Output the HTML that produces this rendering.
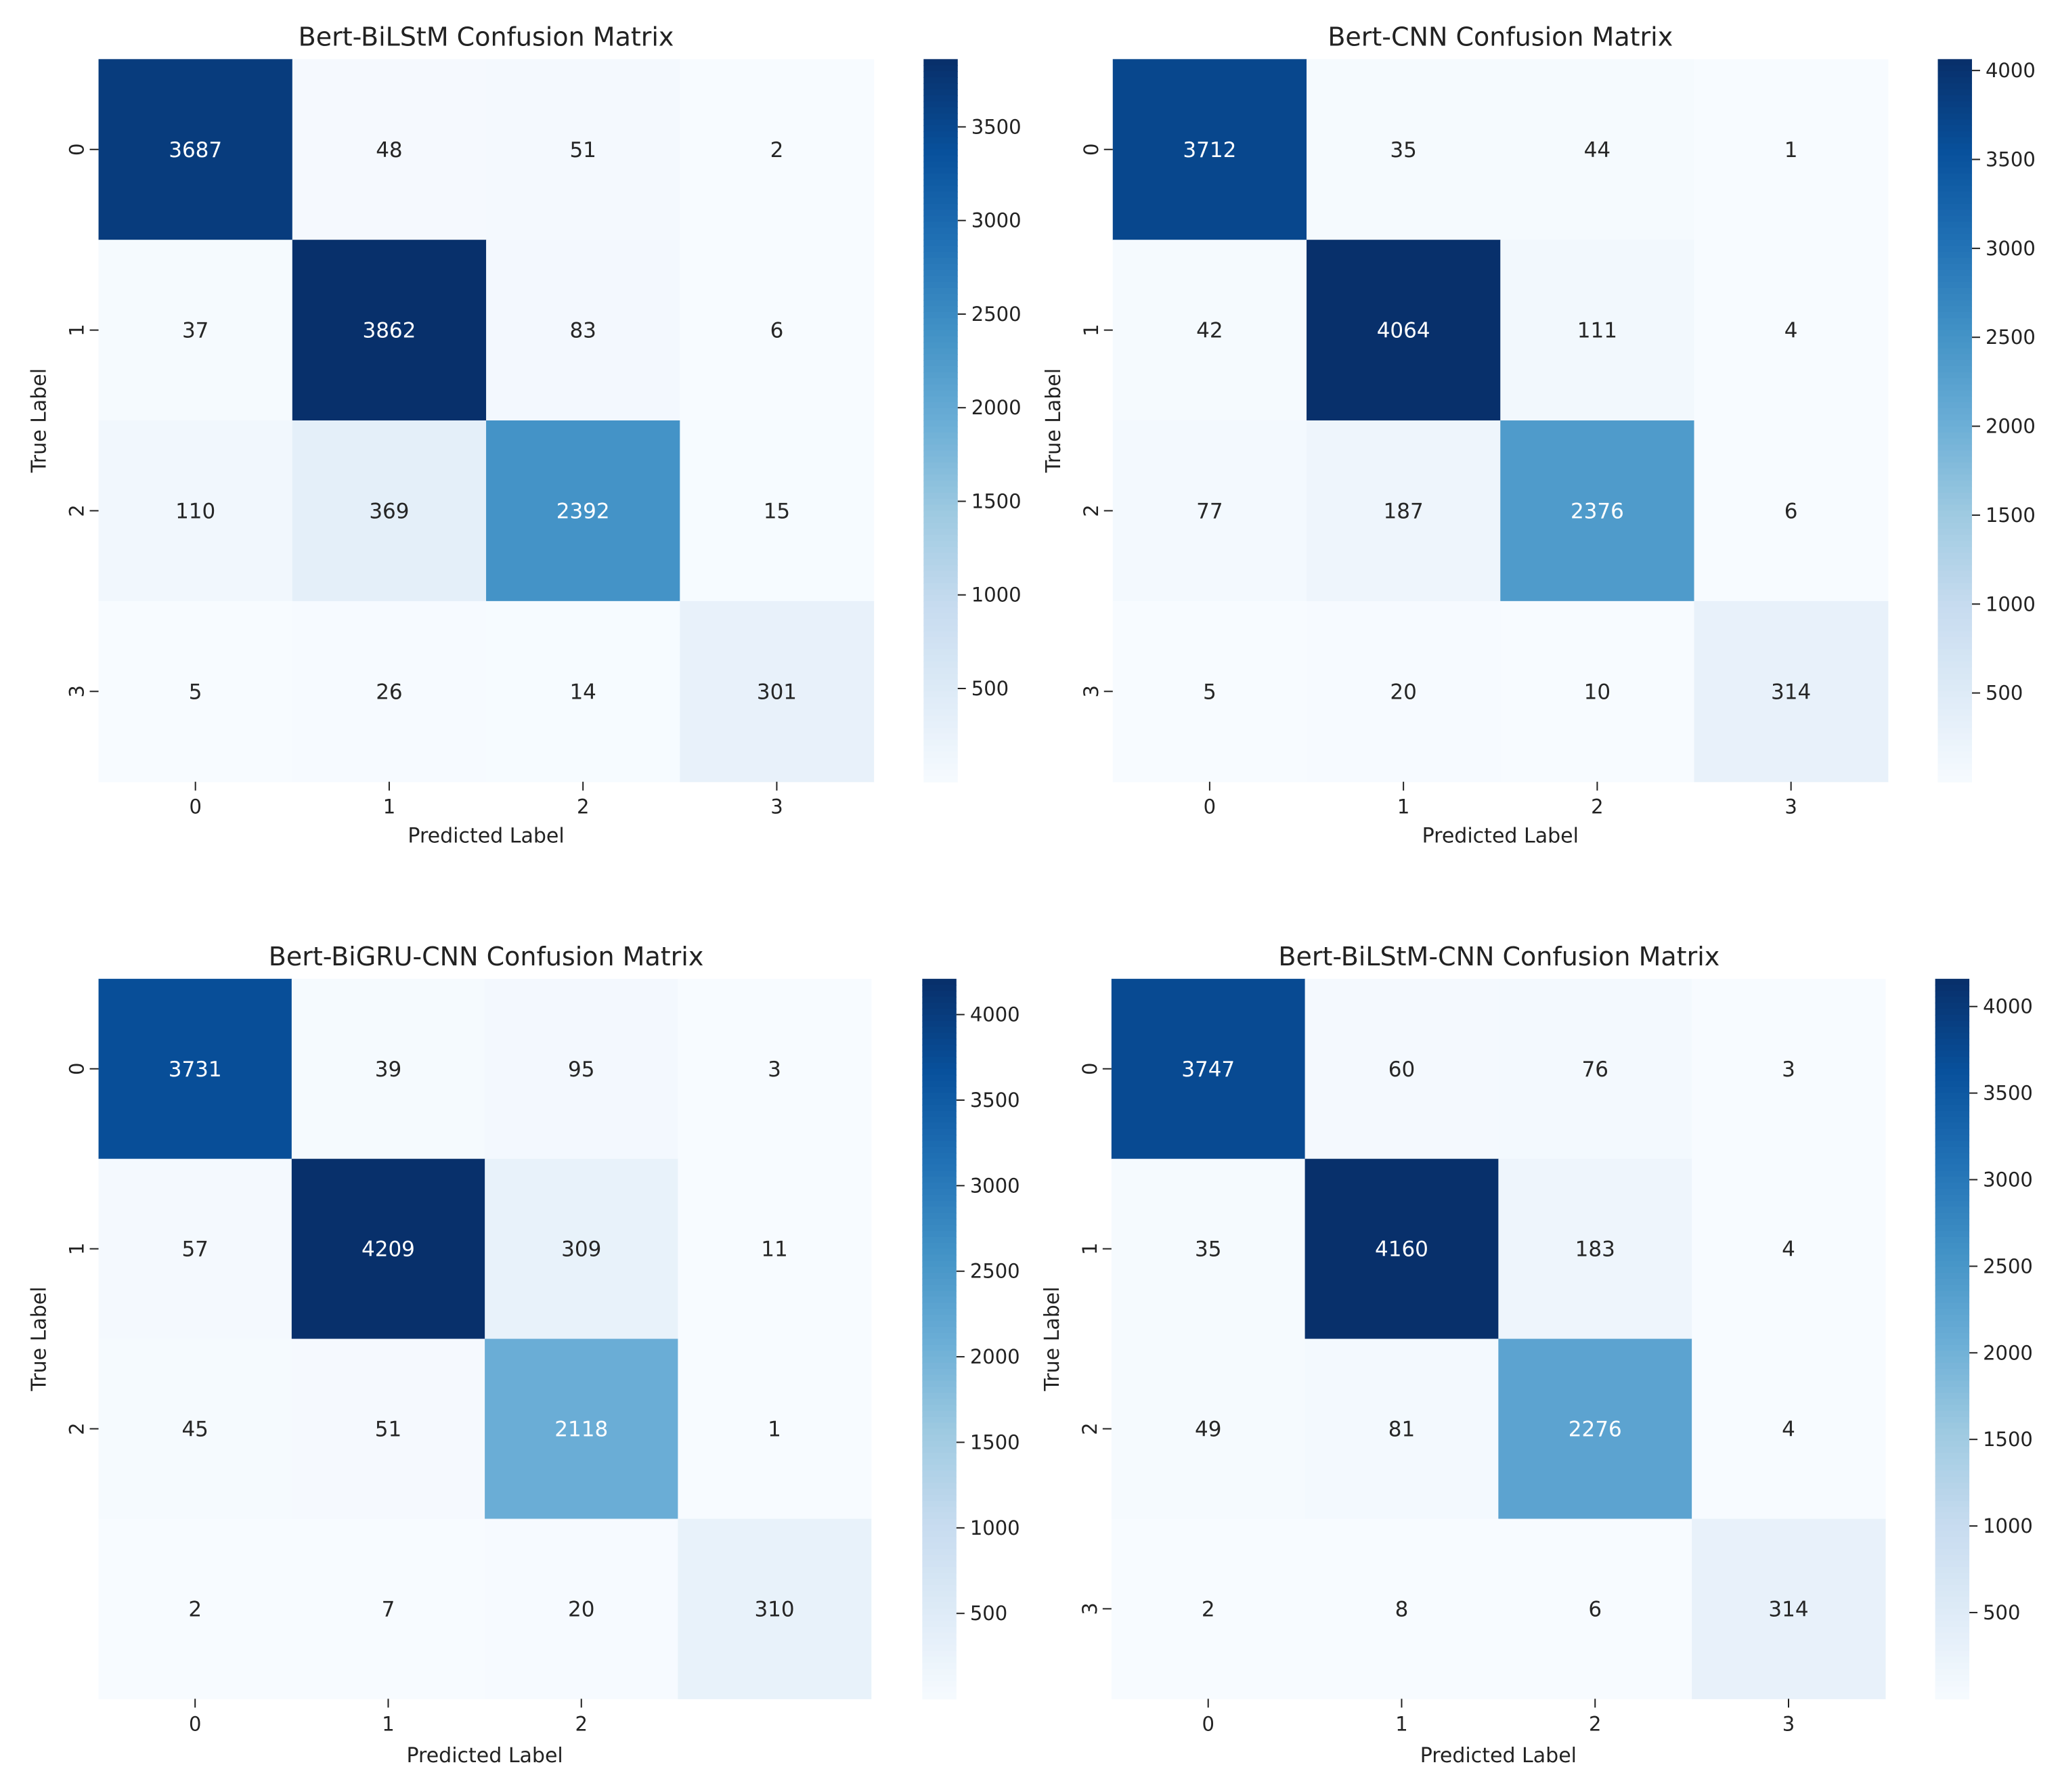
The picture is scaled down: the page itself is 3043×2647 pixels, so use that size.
<!DOCTYPE html>
<html><head><meta charset="utf-8">
<style>
html,body{margin:0;padding:0;background:#fff;}
svg{display:block;font-family:"DejaVu Sans","Liberation Sans",sans-serif;}
</style></head>
<body>
<svg id="fig" width="3043" height="2647" viewBox="0 0 3043 2647" xmlns="http://www.w3.org/2000/svg"></svg>
<script>
// ---- data ----
const titles = ["Bert-BiLStM Confusion Matrix","Bert-CNN Confusion Matrix","Bert-BiGRU-CNN Confusion Matrix","Bert-BiLStM-CNN Confusion Matrix"];
const categories = ["0","1","2","3"];
const matrixBiLSTM = [[3687,48,51,2],[37,3862,83,6],[110,369,2392,15],[5,26,14,301]];
const matrixCNN = [[3712,35,44,1],[42,4064,111,4],[77,187,2376,6],[5,20,10,314]];
const matrixBiGRUCNN = [[3731,39,95,3],[57,4209,309,11],[45,51,2118,1],[2,7,20,310]];
const matrixBiLSTMCNN = [[3747,60,76,3],[35,4160,183,4],[49,81,2276,4],[2,8,6,314]];
const cbTicksA = [500,1000,1500,2000,2500,3000,3500];
const cbTicksB = [500,1000,1500,2000,2500,3000,3500,4000];
// bottom-left panel hides the "3" tick labels
const showLast = [true,true,false,true];

const S = 3043/1568;
const layouts = [
  {hx:75,hy:45,hw:590,hh:550,cx:703,tx:370,ty:28,xl:636},
  {hx:847,hy:45,hw:590,hh:550,cx:1475,tx:1142,ty:28,xl:636},
  {hx:75,hy:745,hw:588,hh:548,cx:702,tx:370,ty:728,xl:1336},
  {hx:846,hy:745,hw:589,hh:548,cx:1473,tx:1141,ty:728,xl:1336}
];
const matrices = [matrixBiLSTM,matrixCNN,matrixBiGRUCNN,matrixBiLSTMCNN];
const blues = ["#f7fbff","#deebf7","#c6dbef","#9ecae1","#6baed6","#4292c6","#2171b5","#08519c","#08306b"];
function hex(h){return [1,3,5].map(i=>parseInt(h.substr(i,2),16));}
function cmap(t){
  t=Math.max(0,Math.min(1,t));const p=t*(blues.length-1);const i=Math.min(Math.floor(p),blues.length-2);const f=p-i;
  const a=hex(blues[i]),b=hex(blues[i+1]);return a.map((v,k)=>Math.round(v+(b[k]-v)*f));
}
function lum(c){const l=c.map(v=>{v/=255;return v<=0.03928?v/12.92:Math.pow((v+0.055)/1.055,2.4);});return 0.2126*l[0]+0.7152*l[1]+0.0722*l[2];}
const NS="http://www.w3.org/2000/svg";
const svg=document.getElementById('fig');
function mk(tag,attrs,parent){const e=document.createElementNS(NS,tag);for(const k in attrs)e.setAttribute(k,attrs[k]);(parent||svg).appendChild(e);return e;}

matrices.forEach((m,pi)=>{
  const L=layouts[pi];
  const hx=L.hx*S,hy=L.hy*S,hw=L.hw*S,hh=L.hh*S;
  const n=categories.length;
  const flat=m.flat();const vmin=Math.min(...flat),vmax=Math.max(...flat);
  const cw=hw/n,ch=hh/n;
  const g=mk('g',{});
  
  
  const t=mk('text',{x:L.tx*S,y:L.ty*S+13,'font-size':38,'text-anchor':'middle',fill:'#222'},g);
  t.textContent=titles[pi];
  
  
  const xScale=j=>hx+j*cw, yScale=i=>hy+i*ch;
  m.forEach((row,i)=>row.forEach((v,j)=>{
    const c=cmap((v-vmin)/(vmax-vmin));
    const r=mk('rect',{x:xScale(j),y:yScale(i),width:cw+0.6,height:ch+0.6,fill:`rgb(${c})`},g);
    
    
    const tx=mk('text',{x:xScale(j)+cw/2,y:yScale(i)+ch/2+11,'font-size':31,'text-anchor':'middle',fill:lum(c)<0.408?'#fff':'#262626'},g);
    tx.textContent=v;
    
    
  }));
  categories.forEach((lab,k)=>{
    if(k===n-1&&!showLast[pi])return;
    const x=xScale(k)+cw/2;
    mk('line',{x1:x,y1:hy+hh,x2:x,y2:hy+hh+13,stroke:'#222','stroke-width':2},g);
    const xt=mk('text',{x:x,y:hy+hh+47,'font-size':29,'text-anchor':'middle',fill:'#222'},g);
    xt.textContent=lab;
    
    
    const y=yScale(k)+ch/2;
    mk('line',{x1:hx-13,y1:y,x2:hx,y2:y,stroke:'#222','stroke-width':2},g);
    const yt=mk('text',{x:0,y:0,'font-size':29,'text-anchor':'middle',fill:'#222',transform:`translate(${hx-22},${y}) rotate(-90)`},g);
    yt.textContent=lab;
    
    
  });
  const xl=mk('text',{x:hx+hw/2,y:L.xl*S+10,'font-size':30,'text-anchor':'middle',fill:'#222'},g);
  xl.textContent='Predicted Label';
  
  
  const yl=mk('text',{x:0,y:0,'font-size':30,'text-anchor':'middle',fill:'#222',transform:`translate(${hx-78},${hy+hh/2}) rotate(-90)`},g);
  yl.textContent='True Label';
  
  
  // colorbar
  const cx=L.cx*S,cwid=26*S;
  const steps=120;
  for(let s=0;s<steps;s++){
    const c=cmap(1-s/steps);
    mk('rect',{x:cx,y:hy+s*hh/steps,width:cwid,height:hh/steps+1,fill:`rgb(${c})`},g);
  }
  const cb=mk('rect',{x:cx,y:hy,width:cwid,height:hh,fill:'none'},g);
  
  
  const ticks=vmax>=4000?cbTicksB:cbTicksA;
  ticks.forEach(tv=>{
    if(tv>vmax)return;
    const y=hy+hh*(1-(tv-vmin)/(vmax-vmin));
    mk('line',{x1:cx+cwid,y1:y,x2:cx+cwid+12,y2:y,stroke:'#222','stroke-width':2},g);
    const ct=mk('text',{x:cx+cwid+20,y:y+10,'font-size':29,fill:'#222'},g);
    ct.textContent=tv;
    
    
  });
});
</script>
</body></html>
